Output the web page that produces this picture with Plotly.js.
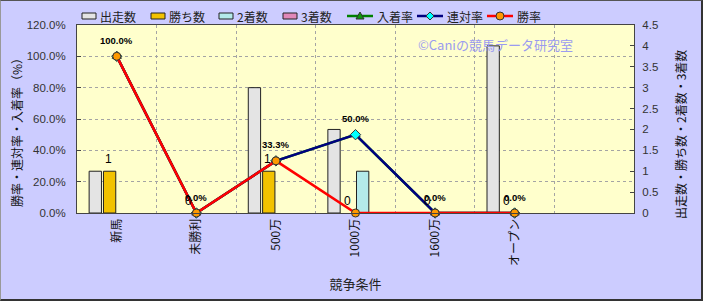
<!DOCTYPE html>
<html>
<head>
<meta charset="utf-8">
<script src="https://cdn.plot.ly/plotly-3.0.1.min.js"></script>
<style>
  html, body { margin: 0; padding: 0; background: #ccccff; }
  #wrap { position: relative; width: 703px; height: 301px; }
  #chart { width: 703px; height: 301px; }
  #frame { position: absolute; left: 0; top: 0; width: 703px; height: 301px; box-sizing: border-box;
           border-top: 1px solid #555; border-left: 1px solid #999; border-right: 2px solid #333; border-bottom: 2px solid #333; pointer-events: none; }
</style>
</head>
<body>
<div id="wrap"><div id="chart"></div><div id="frame"></div></div>
<script>
// ---- data ----
const categories = ['新馬', '未勝利', '500万', '1000万', '1600万', 'オープン'];
const runners   = [1, 0, 3, 2, 0, 4];   // 出走数
const wins      = [1, 0, 1, 0, 0, 0];   // 勝ち数
const seconds   = [0, 0, 0, 1, 0, 0];   // 2着数
const thirds    = [0, 0, 0, 0, 0, 0];   // 3着数
const placeRate = [100, 0, 33.3, 50, 0, 0]; // 入着率 (%)
const quinRate  = [100, 0, 33.3, 50, 0, 0]; // 連対率 (%)
const winRate   = [100, 0, 33.3, 0, 0, 0];  // 勝率 (%)

const FONT = "'Liberation Sans', Arial, 'Noto Sans CJK JP', sans-serif";
const CJK = "'Noto Sans CJK JP', 'Liberation Sans', sans-serif";

// plot-area geometry (margins) used for layout decorations
const M = { l: 77, r: 69, t: 25, b: 88 };
const W = 703, H = 301;
const PW = W - M.l - M.r, PH = H - M.t - M.b;
const px = (x) => (x - M.l) / PW;     // page px -> paper x
const py = (y) => (H - M.b - y) / PH; // page px -> paper y

function barTrace(name, vals, color) {
  return { type: 'bar', name: name, x: categories, y: vals, xaxis: 'x', yaxis: 'y',
           marker: { color: color, line: { color: '#222', width: vals.map(v => v ? 1 : 0) } },
           hoverinfo: 'none', showlegend: false };
}
function lineTrace(name, vals, lineColor, symbol, fill) {
  return { type: 'scatter', mode: 'lines+markers', name: name, x: categories, y: vals,
           xaxis: 'x', yaxis: 'y2', cliponaxis: false,
           line: { color: lineColor, width: 2.5 },
           marker: { symbol: symbol, size: 8, color: fill, line: { color: '#333', width: 1 } },
           hoverinfo: 'none', showlegend: false };
}

const traces = [
  barTrace('出走数', runners, '#e4e4e4'),
  barTrace('勝ち数', wins, '#f2c200'),
  barTrace('2着数', seconds, '#b4eaea'),
  barTrace('3着数', thirds, '#e088b8'),
  lineTrace('入着率', placeRate, '#008000', 'triangle-up', '#119911'),
  lineTrace('連対率', quinRate, '#000080', 'diamond', '#00ffff'),
  lineTrace('勝率', winRate, '#ff0000', 'circle', '#ff9900')
];

const annotations = [];
const shapes = [];
categories.forEach((c, i) => {
  annotations.push({ x: c, y: quinRate[i], xref: 'x', yref: 'y2', showarrow: false,
    text: quinRate[i].toFixed(1) + '%', yshift: 16,
    font: { family: FONT, size: 9.5, color: '#000', weight: 'bold' } });
  annotations.push({ x: c, y: wins[i], xref: 'x', yref: 'y', showarrow: false,
    text: String(wins[i]), yshift: 12, xshift: -8,
    font: { family: FONT, size: 12, color: '#000' } });
});
annotations.push({ xref: 'paper', yref: 'paper', x: px(495), y: py(44), xanchor: 'center', yanchor: 'middle',
  showarrow: false, text: '©Caniの競馬データ研究室', font: { family: CJK, size: 13, color: '#9b9bf0' } });

// axis titles
annotations.push({ xref: 'paper', yref: 'paper', x: px(16), y: py(130), xanchor: 'center', yanchor: 'middle',
  showarrow: false, textangle: -90, text: '勝率・連対率・入着率（%）', font: { family: CJK, size: 12, color: '#111' } });
annotations.push({ xref: 'paper', yref: 'paper', x: px(680), y: py(135), xanchor: 'center', yanchor: 'middle',
  showarrow: false, textangle: -90, text: '出走数・勝ち数・2着数・3着数', font: { family: CJK, size: 12, color: '#111' } });

// custom legend (matches the reference's compact layout)
const LY = 16;
const legendStarts = [82, 151, 219, 283, 347, 417, 487];
traces.forEach((t, i) => {
  const x0 = legendStarts[i];
  let textX;
  if (t.type === 'bar') {
    shapes.push({ type: 'rect', xref: 'paper', yref: 'paper', x0: px(x0), x1: px(x0 + 14), y0: py(LY + 3), y1: py(LY - 3),
      fillcolor: t.marker.color, line: { color: '#222', width: 1 } });
    textX = x0 + 16;
  } else {
    shapes.push({ type: 'line', xref: 'paper', yref: 'paper', x0: px(x0), x1: px(x0 + 26), y0: py(LY), y1: py(LY),
      line: { color: t.line.color, width: 2.5 } });
    const cx = x0 + 13;
    const mk = { xref: 'paper', yref: 'paper', fillcolor: t.marker.color, line: { color: '#333', width: 1 } };
    if (t.marker.symbol === 'circle') {
      shapes.push(Object.assign({ type: 'circle', x0: px(cx - 4), x1: px(cx + 4), y0: py(LY + 4), y1: py(LY - 4) }, mk));
    } else if (t.marker.symbol === 'diamond') {
      shapes.push(Object.assign({ type: 'path', path: `M ${px(cx - 4)},${py(LY)} L ${px(cx)},${py(LY - 4)} L ${px(cx + 4)},${py(LY)} L ${px(cx)},${py(LY + 4)} Z` }, mk));
    } else {
      shapes.push(Object.assign({ type: 'path', path: `M ${px(cx - 4)},${py(LY + 3)} L ${px(cx)},${py(LY - 4)} L ${px(cx + 4)},${py(LY + 3)} Z` }, mk));
    }
    textX = x0 + 28;
  }
  annotations.push({ xref: 'paper', yref: 'paper', x: px(textX), y: py(LY), xanchor: 'left', yanchor: 'middle',
    showarrow: false, text: t.name, font: { family: CJK, size: 12, color: '#222' } });
});

const layout = {
  width: W, height: H,
  margin: M,
  paper_bgcolor: '#ccccff', plot_bgcolor: '#ffffcc',
  font: { family: FONT, size: 11, color: '#222' },
  barmode: 'group', bargap: 0.28, bargroupgap: 0.14,
  showlegend: false,
  xaxis: { type: 'category', range: [-0.5, 6.5], tickson: 'boundaries',
           showgrid: true, gridcolor: '#a4a4a4', griddash: 'dot', gridwidth: 1,
           ticks: '', tickangle: -90, tickfont: { family: CJK, size: 12, color: '#111' },
           showline: true, linecolor: '#444', linewidth: 1, mirror: true,
           title: { text: '競争条件', font: { family: CJK, size: 13, color: '#222' }, standoff: 14 } },
  yaxis: { side: 'right', range: [0, 4.5], dtick: 0.5, showgrid: false, zeroline: false,
           ticks: 'inside', ticklen: 4, tickcolor: '#444',
           tickfont: { family: FONT, size: 11.5, color: '#333' }, ticklabelstandoff: 5,
           showline: true, linecolor: '#444', linewidth: 1 },
  yaxis2: { side: 'left', overlaying: 'y', range: [0, 120], dtick: 20, tickformat: '.1f', ticksuffix: '%',
            showgrid: true, gridcolor: '#a4a4a4', griddash: 'dot', gridwidth: 1, zeroline: false,
            ticks: 'inside', ticklen: 4, tickcolor: '#444',
            tickfont: { family: FONT, size: 11.5, color: '#333' }, ticklabelstandoff: 8,
            showline: true, linecolor: '#444', linewidth: 1 },
  annotations: annotations,
  shapes: shapes
};

Plotly.newPlot('chart', traces, layout, { staticPlot: true, displayModeBar: false });
</script>
</body>
</html>
